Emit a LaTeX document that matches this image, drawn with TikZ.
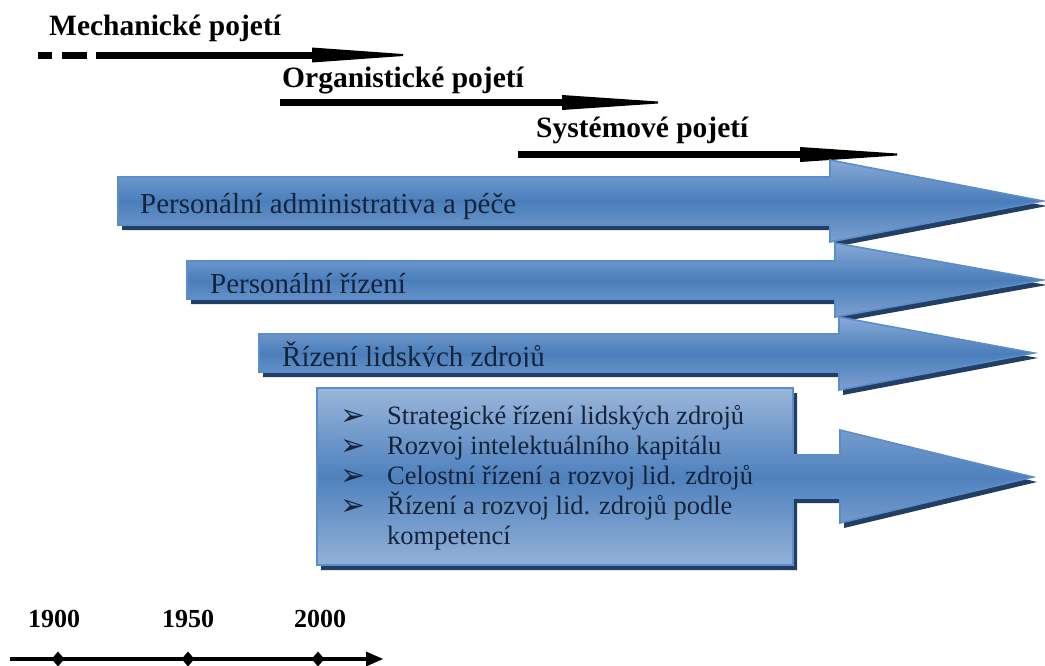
\documentclass[tikz,border=0pt]{standalone}
\usepackage{fontspec}
\usetikzlibrary{shapes.geometric}
\setmainfont{Liberation Serif}
\newfontfamily\dingfont{DejaVu Sans}
\definecolor{bandTop}{HTML}{88A9D6}
\definecolor{bandMid}{HTML}{4A7EBB}
\definecolor{bandBot}{HTML}{7DA0D0}
\definecolor{boxTop}{HTML}{9AB6DB}
\definecolor{boxMid}{HTML}{4F81BD}
\definecolor{boxBot}{HTML}{93B1D8}
\definecolor{bandEdge}{HTML}{5B8CCB}
\definecolor{bandShadow}{HTML}{223E63}
\definecolor{bandText}{HTML}{15243A}
\begin{document}
\begin{tikzpicture}[x=1pt,y=-1pt,
  band/.style={draw=bandEdge, line width=1.6pt, line join=miter,
    top color=bandTop, bottom color=bandBot, middle color=bandMid},
  listbox/.style={draw=bandEdge, line width=1.6pt, line join=miter,
    top color=boxTop, bottom color=boxBot, middle color=boxMid},
  bandshadow/.style={fill=bandShadow, shift={(4,5)}},
  era/.style={anchor=base west, inner sep=0pt, font=\fontsize{29.5}{34}\selectfont\bfseries},
  eraline/.style={line width=7pt},
  erahead/.style={fill=black},
  bandlabel/.style={anchor=base west, inner sep=0pt, text=bandText, font=\fontsize{29}{34}\selectfont},
  item/.style={anchor=base west, inner sep=0pt, text=bandText, font=\fontsize{26.5}{30}\selectfont},
  bullet/.style={anchor=base west, inner sep=0pt, text=bandText, font=\dingfont\fontsize{30}{30}\selectfont},
  year/.style={anchor=base, inner sep=0pt, font=\fontsize{26}{30}\selectfont\bfseries},
  tick/.style={diamond, fill=black, inner sep=0pt, minimum width=13pt, minimum height=15pt},
]
\useasboundingbox (0,0) rectangle (1045,665);

% ---------- approaches with their time spans ----------
\node[era] (mech) at (49,35) {Mechanické pojetí};
\coordinate (mechA) at (38,55);
\coordinate (mechB) at (312,55);
\draw[eraline, dash pattern=on 14pt off 10pt on 25pt off 9pt on 400pt] (mechA) -- (mechB);
\fill[erahead] (312,47.5) -- (403,54) -- (403,56) -- (312,62.5) -- cycle;

\node[era] (org) at (282,87) {Organistické pojetí};
\coordinate (orgA) at (280,102.5);
\coordinate (orgB) at (562,102.5);
\draw[eraline] (orgA) -- (orgB);
\fill[erahead] (562,95) -- (658,101.5) -- (658,103.5) -- (562,110) -- cycle;

\node[era] (sys) at (536,137) {Systémové pojetí};
\coordinate (sysA) at (518,154.5);
\coordinate (sysB) at (800,154.5);
\draw[eraline] (sysA) -- (sysB);
\fill[erahead] (800,147) -- (897,153.5) -- (897,155.5) -- (800,162) -- cycle;

% ---------- band 1 ----------
\fill[bandshadow] (118,177) -- (830,177) -- (830,160) -- (1043,201) -- (830,242) -- (830,225) -- (118,225) -- cycle;
\path[band] (118,177) -- (830,177) -- (830,160) -- (1043,201) -- (830,242) -- (830,225) -- (118,225) -- cycle;
\node[bandlabel] (pa) at (140,213) {Personální administrativa a péče};

% ---------- band 2 ----------
\fill[bandshadow] (187,261) -- (835,261) -- (835,243) -- (1043,280) -- (835,317) -- (835,299) -- (187,299) -- cycle;
\path[band] (187,261) -- (835,261) -- (835,243) -- (1043,280) -- (835,317) -- (835,299) -- (187,299) -- cycle;
\begin{scope}
  \clip (187,250) rectangle (835,292.5);
  \node[bandlabel] (pr) at (210,293) {Personální řízení};
\end{scope}

% ---------- band 3 ----------
\fill[bandshadow] (259,334) -- (839,334) -- (839,317) -- (1034,353) -- (839,390) -- (839,372) -- (259,372) -- cycle;
\path[band] (259,334) -- (839,334) -- (839,317) -- (1034,353) -- (839,390) -- (839,372) -- (259,372) -- cycle;
\begin{scope}
  \clip (259,320) rectangle (839,366);
  \node[bandlabel] (rlz) at (282,366.5) {Řízení lidských zdrojů};
\end{scope}

% ---------- list box with arrow ----------
\fill[bandshadow] (317,388) -- (793,388) -- (793,455) -- (840,455) -- (840,430) -- (1033,477) -- (840,523) -- (840,498) -- (793,498) -- (793,565) -- (317,565) -- cycle;
\path[listbox] (317,388) -- (793,388) -- (793,455) -- (840,455) -- (840,430) -- (1033,477) -- (840,523) -- (840,498) -- (793,498) -- (793,565) -- (317,565) -- cycle;

\node[bullet] (d1) at (340,425) {➢};
\node[bullet] (d2) at (340,455) {➢};
\node[bullet] (d3) at (340,485) {➢};
\node[bullet] (d4) at (340,515) {➢};
\node[item] (i1) at (387,424) {Strategické řízení lidských zdrojů};
\node[item] (i2) at (387,454) {Rozvoj intelektuálního kapitálu};
\node[item] (i3) at (387,484) {Celostní řízení a rozvoj lid. zdrojů};
\node[item] (i4) at (387,514) {Řízení a rozvoj lid. zdrojů podle};
\node[item] (i5) at (387,544) {kompetencí};

% ---------- timeline ----------
\node[year] (y1900) at (54,627) {1900};
\node[year] (y1950) at (188,627) {1950};
\node[year] (y2000) at (320,627) {2000};
\coordinate (tA) at (10,659);
\coordinate (tB) at (368,659);
\draw[line width=4.5pt] (tA) -- (tB);
\fill (366,651.5) -- (383,659) -- (366,666.5) -- cycle;
\node[tick] (t1900) at (58,659) {};
\node[tick] (t1950) at (188,659) {};
\node[tick] (t2000) at (318,659) {};
\end{tikzpicture}
\end{document}
